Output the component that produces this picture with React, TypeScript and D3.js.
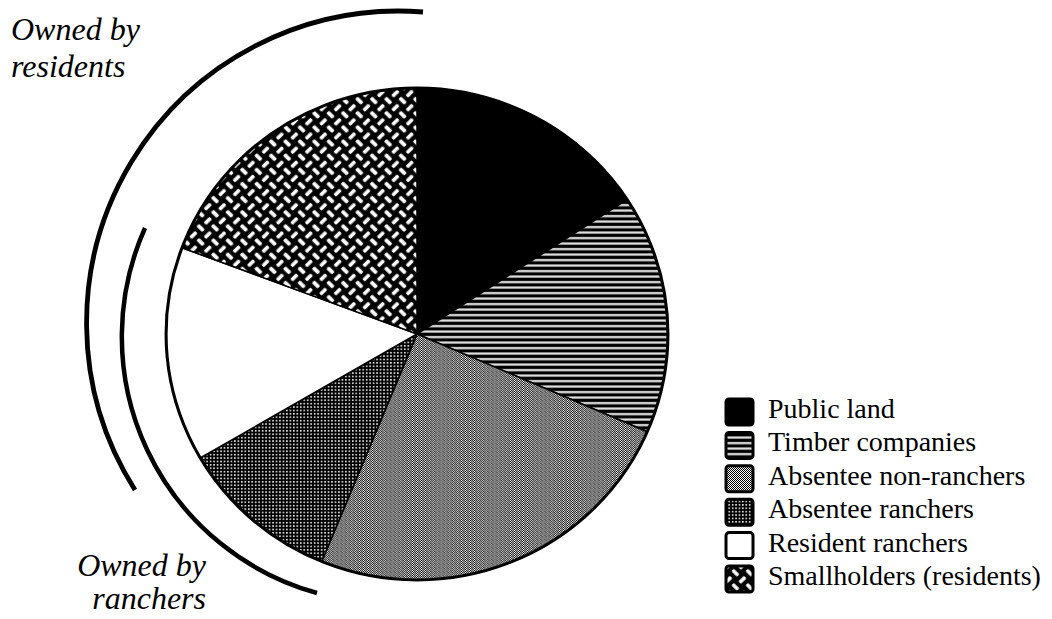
import React from 'react';
import * as d3 from 'd3';

const categories = [
  'Public land',
  'Timber companies',
  'Absentee non-ranchers',
  'Absentee ranchers',
  'Resident ranchers',
  'Smallholders (residents)',
];
const shares = [15.8, 15.7, 24.7, 10.4, 14.1, 19.3];
const residentsLabel = ['Owned by', 'residents'];
const ranchersLabel = ['Owned by', 'ranchers'];

export default function App() {
  const W = 1052;
  const H = 619;
  const cx = 417;
  const cy = 334;
  const r = 246;
  const pieData = d3.pie<number>().sort(null).value((d) => d)(shares);
  const arcGen = d3.arc<d3.PieArcDatum<number>>().innerRadius(0).outerRadius(r);
  const fills = ['#000', 'url(#timber)', 'url(#nonranch)', 'url(#absranch)', '#fff', 'url(#weave)'];

  // bracket arcs (annotation geometry)
  const outerBracket = d3.path();
  outerBracket.moveTo(423, 12);
  const outerD = `M423,12 A312,312 0 0 0 135,490`;
  const innerD = `M145,228 A266,266 0 0 0 317,593`;

  const legendY = (i: number) => 418 + i * 33.4;
  const serif = '"Liberation Serif", "Times New Roman", serif';

  return (
    <svg width={W} height={H} style={{ position: 'absolute', left: 0, top: 0, background: '#fff' }}>
      <defs>
        <pattern id="timber" patternUnits="userSpaceOnUse" width="5.5" height="5.5">
          <rect width="5.5" height="5.5" fill="#000" />
          <rect y="2" width="5.5" height="2.2" fill="#e8e8e8" />
        </pattern>
        <pattern id="nonranch" patternUnits="userSpaceOnUse" width="4" height="4">
          <rect width="4" height="4" fill="#fff" />
          {[[0, 0], [2, 0], [1, 1], [3, 1], [0, 2], [2, 2], [1, 3], [3, 3]].map(([x, y], i) => (
            <rect key={i} x={x} y={y} width="1" height="1" fill="#000" />
          ))}
          <line x1="0" y1="0" x2="4" y2="4" stroke="#000" strokeWidth="0.4" />
        </pattern>
        <pattern id="absranch" patternUnits="userSpaceOnUse" width="3.4" height="3.4">
          <rect width="3.4" height="3.4" fill="#000" />
          <rect x="0.9" y="0.9" width="1.5" height="1.5" fill="#fff" />
        </pattern>
        <pattern id="weave" patternUnits="userSpaceOnUse" width="20" height="20" patternTransform="rotate(45)">
          <rect width="20" height="20" fill="#000" />
          <rect x="1" y="3.2" width="8" height="3.6" rx="1.2" fill="#fff" />
          <rect x="13.2" y="1" width="3.6" height="8" rx="1.2" fill="#fff" />
          <rect x="3.2" y="11" width="3.6" height="8" rx="1.2" fill="#fff" />
          <rect x="11" y="13.2" width="8" height="3.6" rx="1.2" fill="#fff" />
        </pattern>
      </defs>

      <g transform={`translate(${cx},${cy}) scale(1.02,1)`}>
        {pieData.map((d, i) => (
          <path key={categories[i]} d={arcGen(d) || ''} fill={fills[i]} stroke="#000" strokeWidth={1.5} />
        ))}
        <circle r={r} fill="none" stroke="#000" strokeWidth={3} />
      </g>

      <path d={outerD} fill="none" stroke="#000" strokeWidth={4.8} />
      <path d={innerD} fill="none" stroke="#000" strokeWidth={4.5} />

      <g fontFamily={serif} fontStyle="italic" fontSize={32} fill="#000">
        <text x={11} y={40}>{residentsLabel[0]}</text>
        <text x={11} y={77}>{residentsLabel[1]}</text>
        <text x={206} y={576} textAnchor="end">{ranchersLabel[0]}</text>
        <text x={206} y={609} textAnchor="end">{ranchersLabel[1]}</text>
      </g>

      <g fontFamily={serif} fontSize={28} fill="#000">
        {categories.map((c, i) => (
          <g key={c}>
            <rect x={726} y={legendY(i) - 19} width={27} height={26} rx={3} fill={fills[i]} stroke="#000" strokeWidth={3} />
            <text x={768} y={legendY(i)}>{c}</text>
          </g>
        ))}
      </g>
    </svg>
  );
}
